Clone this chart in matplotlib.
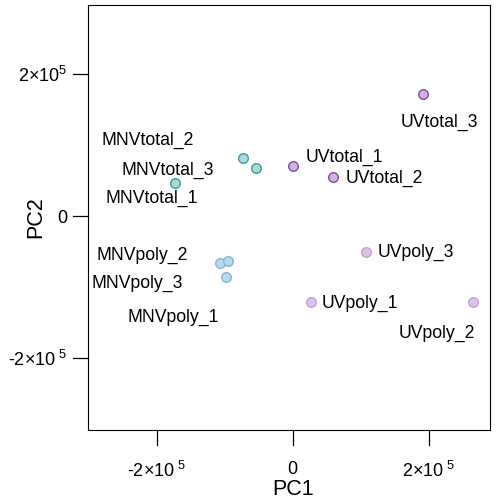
import numpy as np
import matplotlib
matplotlib.use("Agg")
import matplotlib.pyplot as plt
import matplotlib.transforms as mtransforms

plt.rcParams["font.family"] = ["Liberation Sans", "DejaVu Sans"]
plt.rcParams["mathtext.fontset"] = "custom"
plt.rcParams["mathtext.rm"] = "Liberation Sans"
plt.rcParams["mathtext.it"] = "Liberation Sans"

# ---------------------------
# PCA scores
# ---------------------------
samples = ["MNVtotal_1", "MNVtotal_2", "MNVtotal_3",
           "UVtotal_1", "UVtotal_2", "UVtotal_3",
           "MNVpoly_1", "MNVpoly_2", "MNVpoly_3",
           "UVpoly_1", "UVpoly_2", "UVpoly_3"]
pc1 = [-173500, -73500, -54400,
       0, 58800, 191000,
       -98500, -107000, -95600,
       26500, 264700, 107400]
pc2 = [46500, 81700, 67600,
       70400, 54900, 171800,
       -85900, -66200, -63400,
       -121100, -121100, -50700]
groups = ["MNVtotal"] * 3 + ["UVtotal"] * 3 + ["MNVpoly"] * 3 + ["UVpoly"] * 3

tick_values = [-200000, 0, 200000]
x_tick_labels = [r"-2×10$^{\ 5}$", "0", r"2×10$^{\ 5}$"]
y_tick_labels = [r"-2×10$^{\ 5}$", "0", r"2×10$^{5}$"]

# style per group: (fill, edge)
group_style = {
    "MNVtotal": ("#a6dbd8", "#3f9c9c"),
    "UVtotal": ("#cfb2df", "#7e4f9e"),
    "MNVpoly": ("#b6dcec", "#86b4d8"),
    "UVpoly": ("#dcc2e6", "#c29fd6"),
}
# label offsets in pixels (dx, dy)
label_offsets = {
    "MNVtotal_1": (-23, -15), "MNVtotal_2": (-95, 18), "MNVtotal_3": (-88, -2),
    "UVtotal_1": (52, 9), "UVtotal_2": (52, -1), "UVtotal_3": (17, -28),
    "MNVpoly_1": (-52, -40), "MNVpoly_2": (-78, 8), "MNVpoly_3": (-91, -22),
    "UVpoly_1": (49, -1), "UVpoly_2": (-36, -31), "UVpoly_3": (50, 0),
}

fig = plt.figure(figsize=(5, 5), dpi=100)
ax = fig.add_axes([0.176, 0.14, 0.804, 0.85])

for g, (fc, ec) in group_style.items():
    idx = [i for i, gg in enumerate(groups) if gg == g]
    ax.scatter([pc1[i] for i in idx], [pc2[i] for i in idx], s=48,
               facecolor=fc, edgecolor=ec, linewidth=1.0, zorder=3)

for name, x, y in zip(samples, pc1, pc2):
    dx, dy = label_offsets[name]
    ax.annotate(name, (x, y), xytext=(dx, dy), textcoords="offset pixels",
                ha="center", va="center", fontsize=12.7)

ax.set_xlim(-301000, 290000)
ax.set_ylim(-301000, 297000)
ax.set_xticks(tick_values)
ax.set_xticklabels(x_tick_labels)
ax.set_yticks(tick_values)
ax.set_yticklabels(y_tick_labels)
# built-in tick marks did not show up reliably, so draw them as short lines
ax.tick_params(length=0, labelsize=13)
ax.tick_params(axis="x", pad=22)
ax.tick_params(axis="y", pad=15)

xtrans = mtransforms.blended_transform_factory(ax.transData, ax.transAxes)
ytrans = mtransforms.blended_transform_factory(ax.transAxes, ax.transData)
for t in tick_values:
    ax.plot([t, t], [0, -0.036], transform=xtrans, color="black",
            linewidth=0.9, clip_on=False)
    ax.plot([0, -0.038], [t, t], transform=ytrans, color="black",
            linewidth=0.9, clip_on=False)

ax.set_xlabel("PC1", fontsize=15.5)
ax.set_ylabel("PC2", fontsize=15.5)
ax.xaxis.set_label_coords(0.51, -0.14)
ax.yaxis.set_label_coords(-0.129, 0.5)
ax.xaxis.label.set_va("center")
ax.yaxis.label.set_va("center")
for sp in ax.spines.values():
    sp.set_linewidth(0.8)

plt.savefig("out.png", dpi=100)
